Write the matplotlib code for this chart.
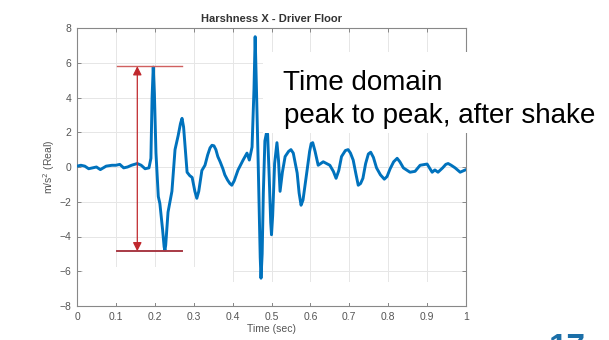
import matplotlib
matplotlib.use("Agg")
import matplotlib.pyplot as plt
from matplotlib.patches import Rectangle

# acceleration trace, driver floor, X direction
t = [0.000, 0.010, 0.020, 0.030, 0.040, 0.050, 0.060, 0.075, 0.090, 0.100,
     0.110, 0.120, 0.130, 0.140, 0.155, 0.165, 0.175, 0.185, 0.190, 0.193,
     0.196, 0.199, 0.203, 0.209, 0.213, 0.220, 0.224, 0.226, 0.228, 0.234,
     0.244, 0.252, 0.260, 0.266, 0.270, 0.274, 0.279, 0.283, 0.290, 0.296,
     0.303, 0.308, 0.313, 0.321, 0.329, 0.336, 0.342, 0.347, 0.352, 0.357,
     0.362, 0.368, 0.375, 0.380, 0.387, 0.393, 0.398, 0.404, 0.414, 0.427,
     0.437, 0.443, 0.450, 0.455, 0.458, 0.461, 0.466, 0.471, 0.473, 0.476,
     0.479, 0.483, 0.487, 0.490, 0.494, 0.498, 0.500, 0.503, 0.508, 0.514,
     0.518, 0.522, 0.528, 0.535, 0.544, 0.550, 0.556, 0.562, 0.566, 0.571,
     0.576, 0.581, 0.586, 0.592, 0.598, 0.602, 0.606, 0.612, 0.620, 0.633,
     0.650, 0.659, 0.666, 0.673, 0.680, 0.690, 0.697, 0.703, 0.710, 0.717,
     0.723, 0.729, 0.735, 0.742, 0.749, 0.755, 0.762, 0.770, 0.780, 0.790,
     0.797, 0.805, 0.814, 0.823, 0.830, 0.839, 0.856, 0.869, 0.882, 0.900,
     0.913, 0.920, 0.928, 0.940, 0.948, 0.954, 0.962, 0.972, 0.985, 1.000]
acc = [0.05, 0.10, 0.05, -0.10, -0.05, 0.00, -0.15, 0.05, 0.10, 0.10,
       0.15, -0.05, 0.00, 0.10, 0.20, 0.10, -0.10, -0.05, 0.50, 4.00,
       5.75, 4.20, 0.80, -1.70, -2.10, -3.60, -4.60, -4.80, -4.50, -2.60,
       -1.40, 1.00, 1.80, 2.50, 2.80, 2.30, 0.90, -0.30, -0.50, -0.60,
       -1.40, -1.80, -1.40, -0.20, 0.10, 0.70, 1.10, 1.25, 1.22, 1.00,
       0.60, 0.30, -0.10, -0.45, -0.75, -0.95, -1.05, -0.80, -0.17, 0.40,
       0.80, 0.40, 1.15, 4.50, 7.50, 4.80, 0.00, -5.20, -6.40, -5.00,
       -1.50, 1.50, 1.95, 1.90, -0.50, -3.20, -3.90, -2.80, 0.20, 1.40,
       0.40, -1.40, -0.30, 0.60, 0.90, 1.00, 0.80, 0.10, -0.35, -1.50,
       -2.20, -1.90, -1.10, -0.10, 0.90, 1.35, 1.40, 0.90, 0.10, 0.30,
       0.10, -0.25, -0.65, -0.20, 0.60, 0.95, 1.00, 0.80, 0.40, -0.40,
       -1.05, -0.95, -0.65, 0.20, 0.75, 0.85, 0.55, -0.05, -0.45, -0.70,
       -0.55, -0.10, 0.30, 0.50, 0.30, -0.05, -0.30, -0.25, 0.10, 0.17,
       -0.30, -0.17, -0.30, -0.05, 0.15, 0.20, 0.10, -0.05, -0.30, -0.15]

# peak-to-peak marker
pp_t = 0.155
pp_top = 5.8
pp_bottom = -4.85
pp_span = [0.103, 0.27]

xticks = [0, 0.1, 0.2, 0.3, 0.4, 0.5, 0.6, 0.7, 0.8, 0.9, 1]
xticklabels = ["0", "0.1", "0.2", "0.3", "0.4", "0.5", "0.6", "0.7", "0.8", "0.9", "1"]
yticks = [-8, -6, -4, -2, 0, 2, 4, 6, 8]

plt.rcParams["font.family"] = ["Liberation Sans", "DejaVu Sans"]

fig = plt.figure(figsize=(6.09, 3.40), dpi=100)
ax = fig.add_axes([77 / 609, 34 / 340, 389 / 609, 278 / 340])

ax.set_xlim(0, 1)
ax.set_ylim(-8, 8)
ax.set_xticks(xticks)
ax.set_xticklabels(xticklabels)
ax.set_yticks(yticks)
ax.grid(True, color="#e6e6e6", linewidth=0.7)
ax.set_axisbelow(True)
ax.tick_params(direction="in", top=True, right=True, length=3, width=0.6,
               colors="#777777", labelsize=7.5, labelcolor="#555555", pad=4)
for s in ax.spines.values():
    s.set_color("#888888")
    s.set_linewidth(0.8)

# blank strips along the bottom of the plot area
ax.add_patch(Rectangle((0.015, -7.85), 0.385, 2.1, facecolor="white",
                       edgecolor="none", zorder=1))
ax.add_patch(Rectangle((0.4, -7.85), 0.53, 1.25, facecolor="white",
                       edgecolor="none", zorder=1))

ax.plot(t, acc, color="#0072BD", linewidth=2.1, zorder=3,
        solid_joinstyle="round", solid_capstyle="round")

ax.plot(pp_span, [pp_top, pp_top], color="#d0605f", linewidth=1.0, zorder=4)
ax.plot(pp_span, [pp_bottom, pp_bottom], color="#a83a45", linewidth=1.4, zorder=4)
ax.annotate("", xy=(pp_t, pp_top), xytext=(pp_t, pp_bottom),
            arrowprops=dict(arrowstyle="<|-|>", color="#c0282d", lw=0.9,
                            mutation_scale=13, shrinkA=0, shrinkB=0),
            zorder=4)

ax.set_title("Harshness X - Driver Floor", fontsize=8, fontweight="bold",
             color="#333333", pad=4)
ax.set_xlabel("Time (sec)", fontsize=7.5, color="#555555", labelpad=2)
ax.set_ylabel("m/s$^2$ (Real)", fontsize=7.5, color="#555555", labelpad=2)

# callout box over the upper right of the plot
fig.patches.append(Rectangle((263 / 609, 1 - 133 / 340), 345 / 609, 81 / 340,
                             transform=fig.transFigure, facecolor="white",
                             edgecolor="none", zorder=5))
fig.text(283 / 609, 1 - 90 / 340, "Time domain", fontsize=20, color="black",
         va="baseline", ha="left", zorder=6)
fig.text(284 / 609, 1 - 123 / 340, "peak to peak, after shake", fontsize=20,
         color="black", va="baseline", ha="left", zorder=6)

# page number, running off the bottom edge
fig.text(549 / 609, 1 - 333 / 340, "17", fontsize=24, fontweight="bold",
         color="#1b6fa8", va="top", ha="left", zorder=6)

fig.savefig("out.png", dpi=100)
